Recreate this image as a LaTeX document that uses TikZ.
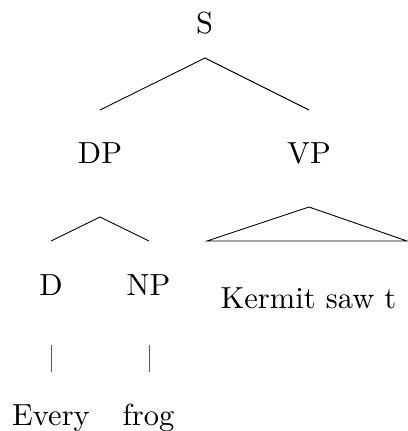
\documentclass[tikz,border=0pt]{standalone}
\usepackage{fontspec}
\newfontfamily\lmten{lmroman10-regular.otf}
\begin{document}
\begin{tikzpicture}[x=1pt,y=-1pt,
  lbl/.style={anchor=base,inner sep=0pt,font=\lmten\fontsize{30.5}{36}\selectfont},
  edge/.style={draw=black,line width=0.9pt},
  bar/.style={draw=black!65,line width=0.9pt}]
\useasboundingbox (0,0) rectangle (407,431);
\node[lbl] (S) at (204.5,33) {S};
\node[lbl] (DP) at (100,163) {DP};
\node[lbl] (VP) at (309,163) {VP};
\node[lbl] (D) at (51,295) {D};
\node[lbl] (NP) at (148.5,295) {NP};
\node[lbl] (K) at (308.5,308) {Kermit saw t};
\node[lbl] (E) at (51,425) {Every};
\node[lbl] (F) at (148.5,425) {frog};
% S branches
\coordinate (Sa) at (205,58);
\coordinate (Sl) at (100,110);
\coordinate (Sr) at (309,110);
\draw[edge] (Sl) -- (Sa) -- (Sr);
% DP branches
\coordinate (Da) at (100,217);
\coordinate (Dl) at (51,241);
\coordinate (Dr) at (149,241);
\draw[edge] (Dl) -- (Da) -- (Dr);
% VP triangle
\coordinate (Va) at (309,207);
\coordinate (Vl) at (207,241);
\coordinate (Vr) at (407,241);
\draw[edge] (Vl) -- (Va) -- (Vr) -- cycle;
% bars
\coordinate (b1t) at (51,345);
\coordinate (b1b) at (51,372);
\coordinate (b2t) at (149,345);
\coordinate (b2b) at (149,372);
\draw[bar] (b1t) -- (b1b);
\draw[bar] (b2t) -- (b2b);
\end{tikzpicture}
\end{document}
